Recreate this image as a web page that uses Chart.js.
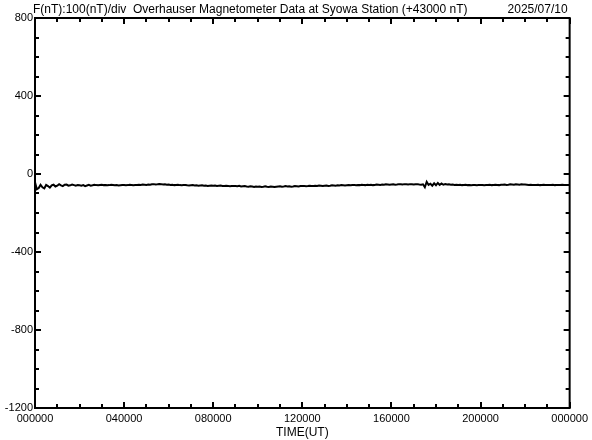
<!DOCTYPE html>
<html>
<head>
<meta charset="utf-8">
<title>Syowa Overhauser Magnetometer</title>
<script src="https://cdn.jsdelivr.net/npm/chart.js@4.4.1/dist/chart.umd.min.js"></script>
<style>
  body { margin: 0; background: #fff; }
  canvas { display: block; }
</style>
</head>
<body>
<canvas id="magChart" width="592" height="440"></canvas>
<script>
var titleText = 'F(nT):100(nT)/div  Overhauser Magnetometer Data at Syowa Station (+43000 nT)';
var dateText = '2025/07/10';
var xAxisTitle = 'TIME(UT)';
var yTickLabels = [800, 400, 0, -400, -800, -1200];
var xTickLabels = ['000000', '040000', '080000', '120000', '160000', '200000', '000000'];

// F minus 43000 nT, one value every 5 minutes, one row per UT hour
var fHour00 = [-42, -78, -72, -55, -68, -74, -56, -62, -70, -58, -55, -64];
var fHour01 = [-60, -52, -58, -62, -55, -54, -60, -58, -54, -57, -60, -56];
var fHour02 = [-58, -60, -57, -62, -59, -56, -60, -58, -55, -57, -58, -56];
var fHour03 = [-55, -57, -56, -58, -57, -55, -56, -58, -57, -59, -58, -57];
var fHour04 = [-56, -58, -57, -55, -56, -58, -57, -56, -55, -56, -54, -55];
var fHour05 = [-56, -54, -55, -53, -52, -54, -53, -51, -52, -54, -53, -55];
var fHour06 = [-54, -56, -55, -57, -56, -55, -57, -58, -57, -56, -58, -59];
var fHour07 = [-58, -57, -59, -58, -60, -59, -58, -60, -59, -61, -60, -59];
var fHour08 = [-60, -59, -61, -60, -59, -61, -62, -60, -61, -63, -62, -61];
var fHour09 = [-62, -63, -61, -64, -63, -62, -64, -65, -63, -64, -66, -64];
var fHour10 = [-65, -64, -66, -65, -63, -65, -66, -64, -65, -67, -65, -64];
var fHour11 = [-63, -65, -64, -62, -64, -63, -65, -64, -62, -63, -64, -62];
var fHour12 = [-62, -61, -63, -62, -60, -61, -62, -60, -61, -59, -60, -61];
var fHour13 = [-60, -59, -61, -60, -58, -59, -60, -58, -59, -57, -58, -59];
var fHour14 = [-58, -57, -58, -56, -57, -58, -56, -57, -55, -56, -57, -55];
var fHour15 = [-56, -55, -57, -56, -54, -55, -56, -54, -55, -53, -54, -55];
var fHour16 = [-54, -53, -55, -54, -52, -53, -54, -52, -53, -54, -52, -53];
var fHour17 = [-54, -53, -52, -54, -55, -53, -68, -40, -56, -50, -60, -48];
var fHour18 = [-58, -46, -56, -49, -55, -52, -54, -53, -55, -54, -56, -55];
var fHour19 = [-56, -55, -57, -56, -55, -57, -56, -58, -57, -56, -58, -57];
var fHour20 = [-57, -56, -58, -57, -56, -55, -57, -56, -55, -56, -57, -55];
var fHour21 = [-55, -54, -56, -55, -53, -54, -55, -53, -54, -55, -53, -54];
var fHour22 = [-54, -55, -56, -55, -56, -57, -56, -55, -57, -56, -55, -56];
var fHour23 = [-56, -57, -56, -55, -57, -56, -57, -56, -55, -56, -57, -56];
var fLast = [-56];

var fValues = [].concat(fHour00, fHour01, fHour02, fHour03, fHour04, fHour05,
  fHour06, fHour07, fHour08, fHour09, fHour10, fHour11, fHour12, fHour13,
  fHour14, fHour15, fHour16, fHour17, fHour18, fHour19, fHour20, fHour21,
  fHour22, fHour23, fLast);

var points = fValues.map(function (v, i) {
  return { x: i * 5 / 60, y: v };
});

var fontFamily = '"Liberation Sans", Arial, sans-serif';
Chart.defaults.font.family = fontFamily;
Chart.defaults.color = '#000';

// box round the plot with inward tick marks, plus the header line
var frameTicks = {
  id: 'frameTicks',
  afterDatasetsDraw: function (chart) {
    var ctx = chart.ctx;
    var a = chart.chartArea;
    var xs = chart.scales.x;
    var ys = chart.scales.y;
    ctx.save();
    ctx.strokeStyle = '#000';
    ctx.lineWidth = 2;
    ctx.strokeRect(a.left, a.top, a.right - a.left, a.bottom - a.top);

    ctx.lineWidth = 2;
    ctx.beginPath();
    xs.ticks.forEach(function (t) {
      var px = Math.round(xs.getPixelForValue(t.value));
      var len = t.value % 4 === 0 ? 6 : 4;
      ctx.moveTo(px, a.bottom);
      ctx.lineTo(px, a.bottom - len);
      ctx.moveTo(px, a.top);
      ctx.lineTo(px, a.top + len);
    });
    ys.ticks.forEach(function (t) {
      var py = Math.round(ys.getPixelForValue(t.value));
      var len = t.value % 400 === 0 ? 6 : 4;
      ctx.moveTo(a.left, py);
      ctx.lineTo(a.left + len, py);
      ctx.moveTo(a.right, py);
      ctx.lineTo(a.right - len, py);
    });
    ctx.stroke();

    ctx.fillStyle = '#000';
    ctx.font = '12px ' + fontFamily;
    ctx.textBaseline = 'alphabetic';
    ctx.textAlign = 'left';
    ctx.fillText(titleText, a.left - 2, a.top - 5);
    ctx.textAlign = 'right';
    ctx.fillText(dateText, a.right - 2, a.top - 5);
    ctx.restore();
  }
};

new Chart(document.getElementById('magChart'), {
  type: 'line',
  data: {
    datasets: [{
      data: points,
      borderColor: '#000',
      borderWidth: 2,
      pointRadius: 0,
      tension: 0,
      fill: false
    }]
  },
  options: {
    responsive: false,
    animation: false,
    devicePixelRatio: 1,
    layout: { padding: { top: 18, right: 22, left: 0, bottom: 0 } },
    plugins: {
      legend: { display: false },
      tooltip: { enabled: false }
    },
    scales: {
      x: {
        type: 'linear',
        min: 0,
        max: 24,
        grid: { display: false, drawTicks: false },
        border: { display: false },
        ticks: {
          stepSize: 1,
          autoSkip: false,
          maxRotation: 0,
          padding: 4,
          font: { size: 11 },
          callback: function (v) {
            return v % 4 === 0 ? xTickLabels[v / 4] : '';
          }
        },
        title: {
          display: true,
          text: xAxisTitle,
          font: { size: 12 },
          padding: { top: 0, bottom: 0 }
        },
        afterFit: function (scale) { scale.height = 32; }
      },
      y: {
        min: -1200,
        max: 800,
        grid: { display: false, drawTicks: false },
        border: { display: false },
        ticks: {
          stepSize: 100,
          autoSkip: false,
          padding: 2,
          font: { size: 11 },
          callback: function (v) {
            return yTickLabels.indexOf(v) >= 0 ? String(v) : '';
          }
        },
        afterFit: function (scale) { scale.width = 35; }
      }
    }
  },
  plugins: [frameTicks]
});
</script>
</body>
</html>
